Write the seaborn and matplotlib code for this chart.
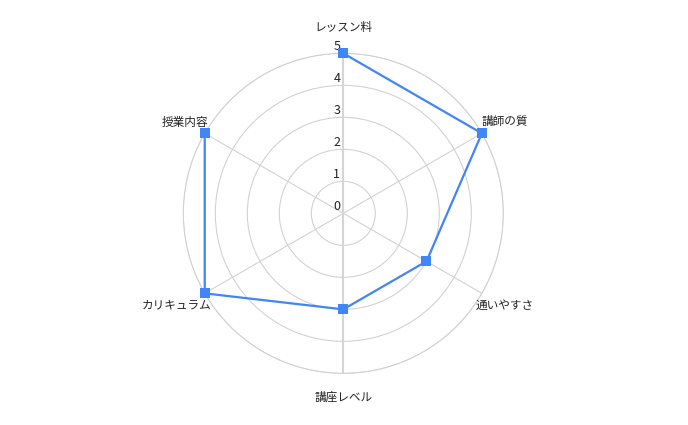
import numpy as np
import pandas as pd
import seaborn as sns
import matplotlib.pyplot as plt

categories = ["レッスン料", "講師の質", "通いやすさ", "講座レベル", "カリキュラム", "授業内容"]
scores = [5, 5, 3, 3, 5, 5]
ticks = [0, 1, 2, 3, 4, 5]

sns.set_style("white")
plt.rcParams['font.family'] = ['Noto Sans CJK JP', 'DejaVu Sans']

angles = np.linspace(0, 2 * np.pi, len(categories), endpoint=False)
df = pd.DataFrame({"angle": np.append(angles, angles[0]),
                   "score": scores + scores[:1]})

fig = plt.figure(figsize=(6.88, 4.25), dpi=100)
ax = fig.add_axes([0.499 - 0.2326, 0.498 - 0.3765, 0.4652, 0.753], projection="polar")
ax.set_theta_zero_location("N")
ax.set_theta_direction(-1)

grid_col = "#d0d0d0"
sns.lineplot(data=df, x="angle", y="score", sort=False, ax=ax, color="#4285f4",
             linewidth=1.6, marker="s", markersize=6.5, markeredgewidth=0, zorder=5)
for ln in ax.lines:
    ln.set_clip_on(False)

ax.set_ylim(0, 5)
ax.set_yticks([1, 2, 3, 4, 5])
ax.set_yticklabels([])
ax.set_xticks(angles)
ax.set_xticklabels([])
ax.grid(color=grid_col, linewidth=0.75)
ax.spines["polar"].set_color(grid_col)
ax.spines["polar"].set_linewidth(0.75)
ax.set_xlabel("")
ax.set_ylabel("")
# vertical axis drawn a bit heavier
ax.plot([0, 0], [0, 5], color="#d5d5d5", linewidth=1.5, zorder=1)
ax.plot([np.pi, np.pi], [0, 5], color="#d5d5d5", linewidth=1.5, zorder=1)

for t in ticks:
    ax.annotate(str(t), (0, t), xytext=(-3, 0), textcoords="offset pixels",
                ha="right", va="bottom", fontsize=9, color="#222222")

offsets = [(0, 26, "center"), (0, 12, "left"), (-6, -12, "left"),
           (0, -24, "center"), (7, -12, "right"), (3, 11, "right")]
for ang, lab, (dx, dy, ha) in zip(angles, categories, offsets):
    ax.annotate(lab, (ang, 5), xytext=(dx, dy), textcoords="offset pixels",
                ha=ha, va="center", fontsize=8.4, color="#222222",
                annotation_clip=False)

fig.savefig("out.png", dpi=100)
